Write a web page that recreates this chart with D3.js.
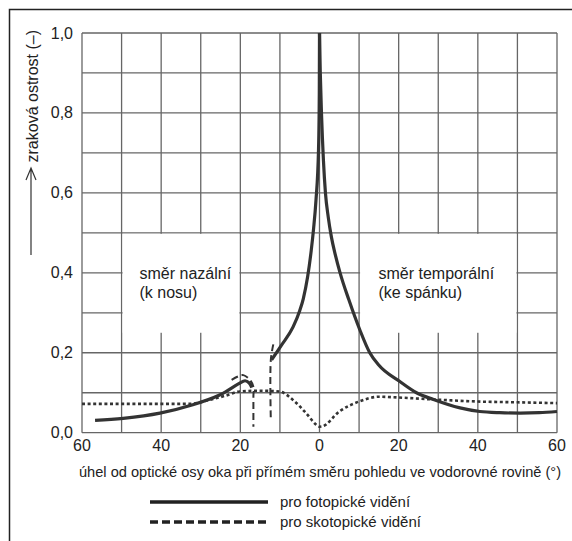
<!DOCTYPE html>
<html lang="cs">
<head>
    <meta charset="UTF-8">
    <title>Zraková ostrost</title>
    <script src="https://d3js.org/d3.v7.min.js"></script>
    <style>
        body { margin: 0; background: white; }
        text { font-family: "Liberation Sans", Arial, sans-serif; fill: #222; }
    </style>
</head>
<body>
<div id="chart"></div>
<script>
    // fotopické vidění, plná čára (úhel: záporný = nazálně, kladný = temporálně)
    var photopicNasalAngles = [-56.7, -49.6, -40.3, -32, -25.1, -20.5, -18.8, -17.8, -17.1];
    var photopicNasalValues = [0.031, 0.036, 0.049, 0.07, 0.095, 0.122, 0.13, 0.125, 0.113];

    var photopicMainAngles = [-12.1, -9.6, -6.7, -5.0, -4.1, -3.0, -2.1, -1.5, -0.9, -0.25, -0.05, 0,
                              0.2, 0.5, 1.0, 1.5, 2.2, 3.0, 4.0, 5.2, 7.4, 10.2, 12.7, 14.9, 20.3, 24.5, 28.8, 35.5, 40.5, 45.5, 50.7, 55.5, 60];
    var photopicMainValues = [0.182, 0.219, 0.264, 0.305, 0.335, 0.39, 0.455, 0.51, 0.58, 0.707, 0.85, 1.0,
                              0.9, 0.8, 0.68, 0.6, 0.54, 0.49, 0.445, 0.4, 0.333, 0.257, 0.2, 0.17, 0.128, 0.1, 0.083, 0.062, 0.053, 0.05, 0.049, 0.05, 0.053];

    // slepá skvrna, čárkovaně
    var blindHookAngles = [-22.2, -20.5, -19.25, -17.56, -16.7, -16.7, -16.7];
    var blindHookValues = [0.132, 0.141, 0.144, 0.132, 0.115, 0.09, 0.015];
    var blindEdgeAngles = [-11.67, -12.3, -12.3];
    var blindEdgeValues = [0.221, 0.182, 0.032];

    // skotopické vidění, tečkovaně
    var scotopicAngles = [-60, -50, -40, -32.8, -27.8, -23.6, -20.2, -15.2, -10.1, -6.7, -3.4, -0.8, 0, 0.8, 5, 10, 15, 20, 30, 40, 50, 60];
    var scotopicValues = [0.072, 0.072, 0.072, 0.072, 0.082, 0.093, 0.103, 0.105, 0.103, 0.082, 0.049, 0.02, 0.015, 0.016, 0.053, 0.078, 0.09, 0.088, 0.0825, 0.078, 0.076, 0.074];

    var xTicks = [-60, -40, -20, 0, 20, 40, 60];
    var yTicks = [0, 0.2, 0.4, 0.6, 0.8, 1.0];
    var xGrid = d3.range(-60, 61, 10);
    var yGrid = d3.range(0, 11).map(function(d) { return d / 10; });

    var width = 572, height = 541;
    var svg = d3.select("#chart").append("svg")
        .attr("width", width)
        .attr("height", height);

    var x = d3.scaleLinear().domain([-60, 60]).range([82, 557]);
    var y = d3.scaleLinear().domain([0, 1]).range([432.7, 33]);

    // rámeček
    svg.append("path")
        .attr("d", "M9.5," + height + "V9.5H" + width)
        .style("fill", "none")
        .style("stroke", "#222")
        .style("stroke-width", 1.5);

    // mřížka
    var grid = svg.append("g")
        .style("stroke", "#666")
        .style("stroke-width", 1.3);

    xGrid.forEach(function(a) {
        grid.append("line")
            .attr("x1", x(a)).attr("x2", x(a))
            .attr("y1", y(0)).attr("y2", y(1));
    });
    yGrid.forEach(function(v) {
        grid.append("line")
            .attr("x1", x(-60)).attr("x2", x(60))
            .attr("y1", y(v)).attr("y2", y(v));
    });

    // bílá pole pro popisky
    var boxes = [
        { from: -50, to: -20, lines: ["směr nazální", "(k nosu)"], tx: 139.5 },
        { from: 10, to: 50, lines: ["směr temporální", "(ke spánku)"], tx: 378.5 }
    ];
    boxes.forEach(function(b) {
        svg.append("rect")
            .attr("x", x(b.from) + 1)
            .attr("y", y(0.5) + 1)
            .attr("width", x(b.to) - x(b.from) - 2)
            .attr("height", y(0.25) - y(0.5) - 1)
            .style("fill", "white");
        b.lines.forEach(function(t, i) {
            svg.append("text")
                .attr("x", b.tx)
                .attr("y", 279 + i * 18.5)
                .style("font-size", "16px")
                .text(t);
        });
    });

    var line = d3.line()
        .x(function(d) { return x(d[0]); })
        .y(function(d) { return y(d[1]); })
        .curve(d3.curveMonotoneX);

    var lineFree = d3.line()
        .x(function(d) { return x(d[0]); })
        .y(function(d) { return y(d[1]); })
        .curve(d3.curveCatmullRom.alpha(0.5));

    var zip = function(a, b) { return a.map(function(v, i) { return [v, b[i]]; }); };

    svg.append("path")
        .attr("d", line(zip(scotopicAngles, scotopicValues)))
        .style("fill", "none")
        .style("stroke", "#333")
        .style("stroke-width", 2.6)
        .style("stroke-dasharray", "3,2.6");

    [[blindHookAngles, blindHookValues], [blindEdgeAngles, blindEdgeValues]].forEach(function(p) {
        svg.append("path")
            .attr("d", lineFree(zip(p[0], p[1])))
            .style("fill", "none")
            .style("stroke", "#333")
            .style("stroke-width", 2)
            .style("stroke-dasharray", "7,4");
    });

    svg.append("path")
        .attr("d", lineFree(zip(photopicNasalAngles, photopicNasalValues)))
        .style("fill", "none")
        .style("stroke", "#333")
        .style("stroke-width", 3.2);

    // špička v nule: levou a pravou větev kreslím zvlášť, ať zůstane ostrá
    var main = zip(photopicMainAngles, photopicMainValues);
    var peak = d3.maxIndex(photopicMainValues);
    [main.slice(0, peak + 1), main.slice(peak)].forEach(function(part) {
        svg.append("path")
            .attr("d", line(part))
            .style("fill", "none")
            .style("stroke", "#333")
            .style("stroke-width", 3.2)
            .style("stroke-linejoin", "round");
    });

    // osy
    svg.selectAll(".ytick")
        .data(yTicks)
        .enter().append("text")
        .attr("x", 73)
        .attr("y", function(d) { return y(d) + 5.5; })
        .attr("text-anchor", "end")
        .style("font-size", "16px")
        .text(function(d) { return d3.format(".1f")(d).replace(".", ","); });

    svg.selectAll(".xtick")
        .data(xTicks)
        .enter().append("text")
        .attr("x", function(d) { return x(d); })
        .attr("y", 451)
        .attr("text-anchor", "middle")
        .style("font-size", "16px")
        .text(function(d) { return Math.abs(d); });

    svg.append("text")
        .attr("x", 320)
        .attr("y", 477)
        .attr("text-anchor", "middle")
        .style("font-size", "14.6px")
        .text("úhel od optické osy oka při přímém směru pohledu ve vodorovné rovině (°)");

    svg.append("text")
        .attr("transform", "translate(37.5,30) rotate(-90)")
        .attr("text-anchor", "end")
        .style("font-size", "16px")
        .text("zraková ostrost (–)");

    // šipka u osy y
    svg.append("path")
        .attr("d", "M31,255V169M26,180L31,168L36,180")
        .style("fill", "none")
        .style("stroke", "#333")
        .style("stroke-width", 1.2);

    // legenda
    var legend = [
        { label: "pro fotopické vidění", dash: null, ly: 502 },
        { label: "pro skotopické vidění", dash: "8,4", ly: 522 }
    ];
    legend.forEach(function(l) {
        svg.append("line")
            .attr("x1", 150).attr("x2", 268)
            .attr("y1", l.ly).attr("y2", l.ly)
            .style("stroke", "#222")
            .style("stroke-width", 3.4)
            .style("stroke-dasharray", l.dash);
        svg.append("text")
            .attr("x", 280)
            .attr("y", l.ly + 5)
            .style("font-size", "15px")
            .text(l.label);
    });
</script>
</body>
</html>
